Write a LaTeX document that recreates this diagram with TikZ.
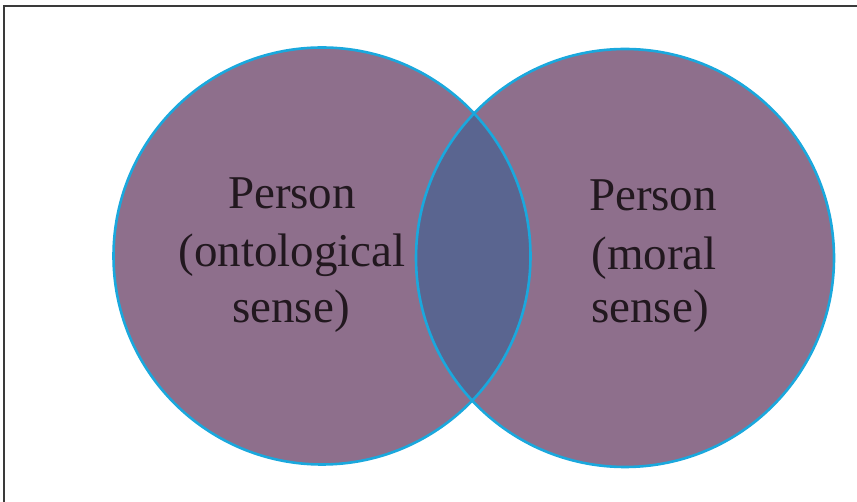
\documentclass[tikz,border=0pt]{standalone}
\usepackage{fontspec}
\setmainfont{Liberation Serif}
\definecolor{setfill}{HTML}{8E6F8C}
\definecolor{lensfill}{HTML}{5A6590}
\definecolor{rimblue}{HTML}{1AA8DD}
\definecolor{inkdark}{HTML}{22181F}
\definecolor{framegray}{HTML}{3A3A3A}
\begin{document}
\begin{tikzpicture}[x=1pt,y=-1pt,
  setdisk/.style={fill=setfill},
  rim/.style={draw=rimblue,line width=2.6pt},
  label/.style={anchor=base,inner sep=0pt,text=inkdark,font=\fontsize{47}{57}\selectfont}]
  \useasboundingbox (0,0) rectangle (857,502);
  % open frame: top and left edges
  \draw[framegray,line width=1.5pt] (4,502) -- (4,6) -- (857,6);
  % the two sets
  \coordinate (cl) at (322,256);
  \coordinate (cr) at (625,258);
  \fill[setdisk] (cl) circle (208.5);
  \fill[setdisk] (cr) circle (209);
  % overlap
  \begin{scope}
    \clip (cl) circle (208.5);
    \fill[lensfill] (cr) circle (209);
  \end{scope}
  \draw[rim] (cl) circle (208.5);
  \draw[rim] (cr) circle (209);
  % labels
  \node[label] (l1) at (292,209) {Person};
  \node[label] (l2) at (292,267) {(ontological};
  \node[label] (l3) at (291,323) {sense)};
  \node[label] (r1) at (653,211) {Person};
  \node[label] (r2) at (654,270) {(moral};
  \node[label] (r3) at (650,323) {sense)};
\end{tikzpicture}
\end{document}
